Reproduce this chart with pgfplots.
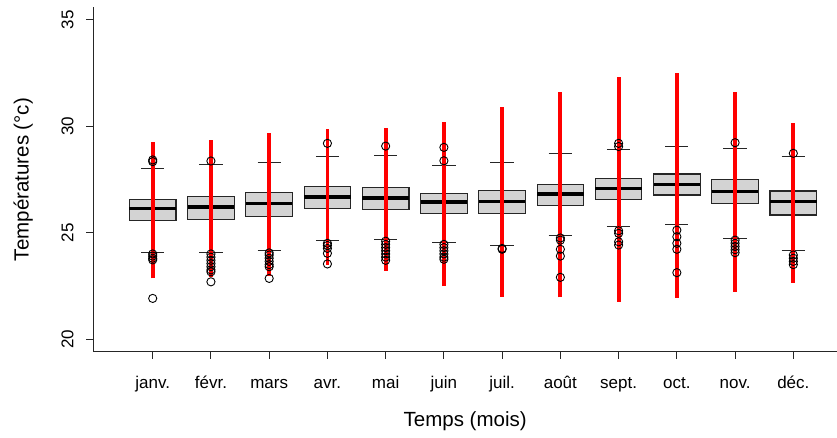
\documentclass[border=0pt]{standalone}
\usepackage{fontspec}
\setmainfont{Liberation Sans}
\usepackage{pgfplots}
\pgfplotsset{compat=1.18}
\usepgfplotslibrary{statistics}
\definecolor{boxgray}{HTML}{D3D3D3}
\definecolor{axgray}{HTML}{262626}
\pgfplotsset{
  boxplot/draw direction=y,
  boxplot/box extend=0.8,
  boxplot/whisker extend=0.4,
  boxplot/every box/.style={fill=boxgray, draw=axgray, line width=1.1bp},
  boxplot/every median/.style={line width=3.6bp, black},
  boxplot/every whisker/.style={line width=1bp, axgray},
  mybox/.style={axgray, line width=1bp, solid, mark=o, mark size=4.1bp,
    mark options={black, line width=0.9bp, fill=none}},
  myred/.style={red, line width=3.8bp, line cap=butt, no marks},
}
\begin{document}
\begin{tikzpicture}[font=\fontsize{17bp}{20bp}\selectfont]
\path[use as bounding box] (-93.3bp,-86.2bp) rectangle (743.7bp,351.8bp);
\begin{axis}[
  at={(0,0)}, anchor=south west,
  scale only axis, width=743.7bp, height=344.6bp,
  xmin=-0.02, xmax=12.75, ymin=19.4, ymax=35.6,
  axis x line*=bottom, axis y line*=left,
  axis line style={-, line width=1bp, axgray},
  xtick={1,...,12},
  xticklabels={janv.,févr.,mars,avr.,mai,juin,juil.,août,sept.,oct.,nov.,déc.},
  ytick={20,25,30,35},
  tick align=outside, major tick length=7bp,
  tick style={line width=1bp, axgray},
  /pgf/number format/assume math mode=true,
  ticklabel style={font=\fontsize{17bp}{20bp}\selectfont, inner sep=0pt},
  xticklabel style={anchor=base},
  yticklabel style={rotate=90, anchor=base},
  xticklabel shift=30bp,
  yticklabel shift=13bp,
  xlabel={Temps (mois)},
  ylabel={Températures (°c)},
  label style={font=\fontsize{20.5bp}{24bp}\selectfont, inner sep=0pt},
  xlabel style={at={([yshift=-75bp]axis description cs:0.5,0)}, anchor=base},
  ylabel style={at={([xshift=-64.6bp]axis description cs:0,0.5)}, anchor=base, rotate=0},
  clip=false,
]
% boxes
\addplot[mybox, boxplot prepared={draw position=1, lower whisker=24.09, lower quartile=25.56, median=26.14, upper quartile=26.58, upper whisker=28.01}]
  table[row sep=\\, y index=0]{y\\ 28.34\\ 28.42\\ 24.00\\ 23.90\\ 23.80\\ 23.72\\ 21.91\\};
\addplot[mybox, boxplot prepared={draw position=2, lower whisker=24.09, lower quartile=25.63, median=26.22, upper quartile=26.68, upper whisker=28.21}]
  table[row sep=\\, y index=0]{y\\ 28.37\\ 24.00\\ 23.85\\ 23.70\\ 23.55\\ 23.40\\ 23.25\\ 23.16\\ 22.69\\};
\addplot[mybox, boxplot prepared={draw position=3, lower whisker=24.15, lower quartile=25.77, median=26.38, upper quartile=26.90, upper whisker=28.32}]
  table[row sep=\\, y index=0]{y\\ 24.05\\ 23.95\\ 23.80\\ 23.65\\ 23.50\\ 23.40\\ 22.85\\};
\addplot[mybox, boxplot prepared={draw position=4, lower whisker=24.65, lower quartile=26.12, median=26.67, upper quartile=27.18, upper whisker=28.57}]
  table[row sep=\\, y index=0]{y\\ 29.20\\ 24.50\\ 24.40\\ 24.26\\ 24.03\\ 23.53\\};
\addplot[mybox, boxplot prepared={draw position=5, lower whisker=24.70, lower quartile=26.11, median=26.63, upper quartile=27.11, upper whisker=28.64}]
  table[row sep=\\, y index=0]{y\\ 29.07\\ 24.60\\ 24.45\\ 24.30\\ 24.15\\ 24.00\\ 23.85\\ 23.70\\};
\addplot[mybox, boxplot prepared={draw position=6, lower whisker=24.55, lower quartile=25.91, median=26.44, upper quartile=26.86, upper whisker=28.18}]
  table[row sep=\\, y index=0]{y\\ 29.01\\ 28.38\\ 24.45\\ 24.30\\ 24.15\\ 24.00\\ 23.85\\ 23.75\\};
\addplot[mybox, boxplot prepared={draw position=7, lower whisker=24.40, lower quartile=25.92, median=26.47, upper quartile=26.97, upper whisker=28.32}]
  table[row sep=\\, y index=0]{y\\ 24.26\\ 24.22\\};
\addplot[mybox, boxplot prepared={draw position=8, lower whisker=24.86, lower quartile=26.27, median=26.82, upper quartile=27.27, upper whisker=28.70}]
  table[row sep=\\, y index=0]{y\\ 24.75\\ 24.65\\ 24.22\\ 23.90\\ 22.90\\};
\addplot[mybox, boxplot prepared={draw position=9, lower whisker=25.28, lower quartile=26.57, median=27.08, upper quartile=27.54, upper whisker=28.89}]
  table[row sep=\\, y index=0]{y\\ 29.20\\ 29.05\\ 25.09\\ 24.97\\ 24.57\\ 24.42\\};
\addplot[mybox, boxplot prepared={draw position=10, lower whisker=25.39, lower quartile=26.77, median=27.27, upper quartile=27.76, upper whisker=29.06}]
  table[row sep=\\, y index=0]{y\\ 25.12\\ 24.81\\ 24.50\\ 24.22\\ 23.12\\};
\addplot[mybox, boxplot prepared={draw position=11, lower whisker=24.73, lower quartile=26.39, median=26.93, upper quartile=27.52, upper whisker=28.97}]
  table[row sep=\\, y index=0]{y\\ 29.23\\ 24.65\\ 24.50\\ 24.35\\ 24.20\\ 24.06\\};
\addplot[mybox, boxplot prepared={draw position=12, lower whisker=24.18, lower quartile=25.83, median=26.46, upper quartile=26.96, upper whisker=28.60}]
  table[row sep=\\, y index=0]{y\\ 28.73\\ 23.95\\ 23.80\\ 23.65\\ 23.50\\};
% red ranges
\addplot[myred] coordinates {(1,22.85) (1,29.28)};
\addplot[myred] coordinates {(2,22.93) (2,29.36)};
\addplot[myred] coordinates {(3,22.98) (3,29.67)};
\addplot[myred] coordinates {(4,23.50) (4,29.87)};
\addplot[myred] coordinates {(5,23.20) (5,29.90)};
\addplot[myred] coordinates {(6,22.49) (6,30.19)};
\addplot[myred] coordinates {(7,21.99) (7,30.92)};
\addplot[myred] coordinates {(8,21.96) (8,31.63)};
\addplot[myred] coordinates {(9,21.75) (9,32.33)};
\addplot[myred] coordinates {(10,21.94) (10,32.49)};
\addplot[myred] coordinates {(11,22.22) (11,31.61)};
\addplot[myred] coordinates {(12,22.65) (12,30.14)};
\end{axis}
\end{tikzpicture}
\end{document}
